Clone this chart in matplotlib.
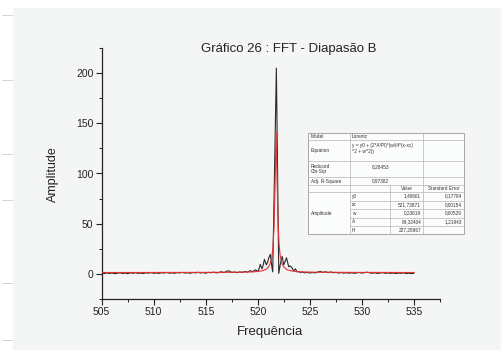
import numpy as np
import matplotlib
matplotlib.use("Agg")
import matplotlib.pyplot as plt
from matplotlib.patches import Rectangle
from matplotlib.lines import Line2D
from matplotlib.ticker import MultipleLocator

plt.rcParams['font.family'] = ['Liberation Sans', 'DejaVu Sans']

# ---------------- data ----------------
title = "Gráfico 26 : FFT - Diapasão B"
xlabel = "Frequência"
ylabel = "Amplitude"

fft_x_left = np.round(np.arange(505.0, 519.76, 0.25), 2)
fft_y_left = [0.8, 0.3, 1.0, 0.5, 0.9, 0.2, 0.7, 1.1, 0.4, 0.8, 0.3, 1.0,
              0.6, 1.2, 0.5, 0.9, 0.4, 1.1, 0.7, 1.3, 0.6, 1.0, 0.5, 1.2,
              0.8, 1.4, 0.7, 1.1, 0.6, 1.3, 0.9, 1.5, 0.8, 1.2, 0.6, 1.4,
              1.0, 1.6, 0.9, 1.3, 0.7, 1.5, 1.1, 1.8, 1.0, 1.4, 2.2, 1.2,
              2.6, 3.0, 1.4, 1.9, 1.2, 2.0, 1.5, 2.4, 1.8, 3.2, 2.2, 4.0]
fft_x_mid = [520.0, 520.1, 520.24, 520.4, 520.5, 520.63, 520.82, 520.95,
             521.05, 521.2, 521.32, 521.43, 521.78, 522.01, 522.15, 522.33,
             522.49, 522.6, 522.75, 522.97, 523.1, 523.29, 523.45, 523.61,
             523.77, 523.93, 524.1]
fft_y_mid = [2.5, 4.5, 9.5, 5.0, 8.0, 14.5, 9.0, 12.0,
             16.0, 19.5, 9.0, 2.0, 205.0, 0.5, 9.0, 17.5,
             9.0, 12.0, 16.0, 7.0, 8.0, 6.0, 3.0, 5.0,
             2.0, 2.5, 1.2]
fft_x_right = np.round(np.arange(524.25, 535.01, 0.25), 2)
fft_y_right = [2.0, 1.0, 1.6, 0.9, 1.4, 1.0, 1.8, 2.5, 1.5, 2.2, 1.3, 2.0,
               1.1, 1.5, 0.9, 1.3, 0.8, 1.2, 0.7, 1.1, 0.6, 1.0, 1.4, 0.8,
               1.2, 1.7, 1.0, 0.7, 1.1, 0.5, 0.9, 1.2, 0.6, 1.0, 0.5, 0.9,
               0.4, 0.8, 0.6, 1.0, 0.4, 0.7, 0.3, 0.6]

fit_x = [505, 508, 511, 514, 516, 517.5, 518.5, 519.5, 520, 520.5, 520.8,
         521.0, 521.2, 521.35, 521.45, 521.55, 521.65, 521.75, 521.85,
         521.95, 522.05, 522.15, 522.3, 522.5, 522.8, 523.2, 523.8, 524.5,
         525.5, 527, 529, 532, 535]
fit_y = [1.4, 1.4, 1.45, 1.5, 1.55, 1.6, 1.75, 2.0, 2.4, 3.3, 4.7,
         6.5, 10.5, 17, 26, 45, 85, 142, 92,
         48, 28, 18, 11, 6.8, 4.2, 3.0, 2.2, 1.9,
         1.7, 1.6, 1.5, 1.45, 1.4]

param_names = ["y0", "xc", "w", "A", "H"]
param_values = ["1,40601", "521,73871", "0,23619", "84,32404", "227,28867"]
param_errors = ["0,17794", "0,00154", "0,00529", "1,21943", ""]
model_name = "Lorentz"
equation = "y = y0 + (2*A/PI)*(w/(4*(x-xc)\n^2 + w^2))"
red_chi = "8,28453"
adj_r2 = "0,97382"

fft_x = np.concatenate([fft_x_left, fft_x_mid, fft_x_right])
fft_y = np.concatenate([fft_y_left, fft_y_mid, fft_y_right])

# ---------------- figure ----------------
W, H = 501, 350
bg = "#f4f6f5"
fig = plt.figure(figsize=(W / 100, H / 100), dpi=100, facecolor=bg)

def px(x, y):
    return x / W, 1 - y / H

# screenshot borders
fig.patches.append(Rectangle((0, 0), 13 / W, 1, transform=fig.transFigure,
                             facecolor="white", edgecolor="none", zorder=-5))
fig.patches.append(Rectangle((0, 1 - 8 / H), 1, 8 / H, transform=fig.transFigure,
                             facecolor="white", edgecolor="none", zorder=-5))
for yy in [15, 80, 154, 200, 283, 340]:
    x0, y0 = px(2, yy)
    x1, _ = px(12, yy)
    fig.add_artist(Line2D([x0, x1], [y0, y0], color="#aab4c0", lw=0.4,
                          transform=fig.transFigure))

l, b = px(101.7, 299)
r, t = px(440, 48)
ax = fig.add_axes([l, b, r - l, t - b])
ax.set_facecolor(bg)
ax.plot(fft_x, fft_y, color="#2a2a2a", lw=0.8, zorder=2)
ax.plot(fit_x, fit_y, color="#e8302f", lw=0.8, zorder=3)

ax.set_xlim(505, 537.5)
ax.set_ylim(-25, 225)
ax.xaxis.set_major_locator(MultipleLocator(5))
ax.xaxis.set_minor_locator(MultipleLocator(2.5))
ax.yaxis.set_major_locator(MultipleLocator(50))
ax.yaxis.set_minor_locator(MultipleLocator(25))
for s in ["top", "right"]:
    ax.spines[s].set_visible(False)
for s in ["left", "bottom"]:
    ax.spines[s].set_color("#222222")
    ax.spines[s].set_linewidth(0.9)
ax.tick_params(which="major", direction="out", length=4, width=0.8,
               labelsize=7.5, colors="#222222", pad=2)
ax.tick_params(which="minor", direction="out", length=2.5, width=0.7,
               colors="#222222")

cx, cy = px(289, 49)
fig.text(cx, cy, title, ha="center", va="center", fontsize=9.5, color="#222222")
cx, cy = px(270, 332)
fig.text(cx, cy, xlabel, ha="center", va="center", fontsize=9.5, color="#222222")
cx, cy = px(53, 174)
fig.text(cx, cy, ylabel, ha="center", va="center", rotation=90, fontsize=9,
         color="#222222")

# ---------------- fit-results table ----------------
tx0, ty0, tx1, ty1 = 308, 133, 464, 234
a0, b0 = px(tx0 - 2, ty1 + 2)
a1, b1 = px(tx1 + 2, ty0 - 2)
tax = fig.add_axes([a0, b0, a1 - a0, b1 - b0])
tax.set_xlim(tx0 - 2, tx1 + 2)
tax.set_ylim(ty1 + 2, ty0 - 2)
tax.axis("off")
tax.add_patch(Rectangle((tx0, ty0), tx1 - tx0, ty1 - ty0, facecolor="#fbfcfc",
                        edgecolor="#9a9a9a", lw=0.6))
lc = "#b5b5b5"
c1, c2, c3 = 350, 390, 423
rows = [133, 140, 161, 177, 185, 192, 200.5, 209, 217.5, 226, 234]
tax.plot([c1, c1], [ty0, ty1], color=lc, lw=0.5)
tax.plot([c3, c3], [ty0, ty1], color=lc, lw=0.5)
tax.plot([c2, c2], [rows[4], ty1], color=lc, lw=0.5)
for yv in rows[1:6]:
    tax.plot([tx0, tx1], [yv, yv], color=lc, lw=0.5)
for yv in rows[6:10]:
    tax.plot([c1, tx1], [yv, yv], color=lc, lw=0.5)

fs = 3.4
tc = "#333333"
def mid(i):
    return (rows[i] + rows[i + 1]) / 2

tax.text(311, mid(0), "Model", fontsize=fs, va="center", color=tc)
tax.text(352, mid(0), model_name, fontsize=fs, va="center", color=tc)
tax.text(311, mid(1), "Equation", fontsize=fs, va="center", color=tc)
tax.text(352, mid(1) - 2, equation, fontsize=fs, va="center", color=tc,
         linespacing=1.1)
tax.text(311, mid(2), "Reduced\nChi-Sqr", fontsize=fs, va="center", color=tc,
         linespacing=1.1)
tax.text(389, mid(2) - 2, red_chi, fontsize=fs, va="center", ha="right", color=tc)
tax.text(311, mid(3), "Adj. R-Square", fontsize=fs, va="center", color=tc)
tax.text(389, mid(3), adj_r2, fontsize=fs, va="center", ha="right", color=tc)
tax.text((c2 + c3) / 2, mid(4), "Value", fontsize=fs, va="center", ha="center", color=tc)
tax.text((c3 + tx1) / 2, mid(4), "Standard Error", fontsize=fs, va="center",
         ha="center", color=tc)
tax.text(311, (rows[5] + rows[10]) / 2, "Amplitude", fontsize=fs, va="center", color=tc)
for i, (n, v, e) in enumerate(zip(param_names, param_values, param_errors)):
    yv = mid(5 + i)
    tax.text(352, yv, n, fontsize=fs, va="center", color=tc)
    tax.text(421, yv, v, fontsize=fs, va="center", ha="right", color=tc)
    if e:
        tax.text(462, yv, e, fontsize=fs, va="center", ha="right", color=tc)

fig.savefig("out.png", dpi=100, facecolor=bg)
